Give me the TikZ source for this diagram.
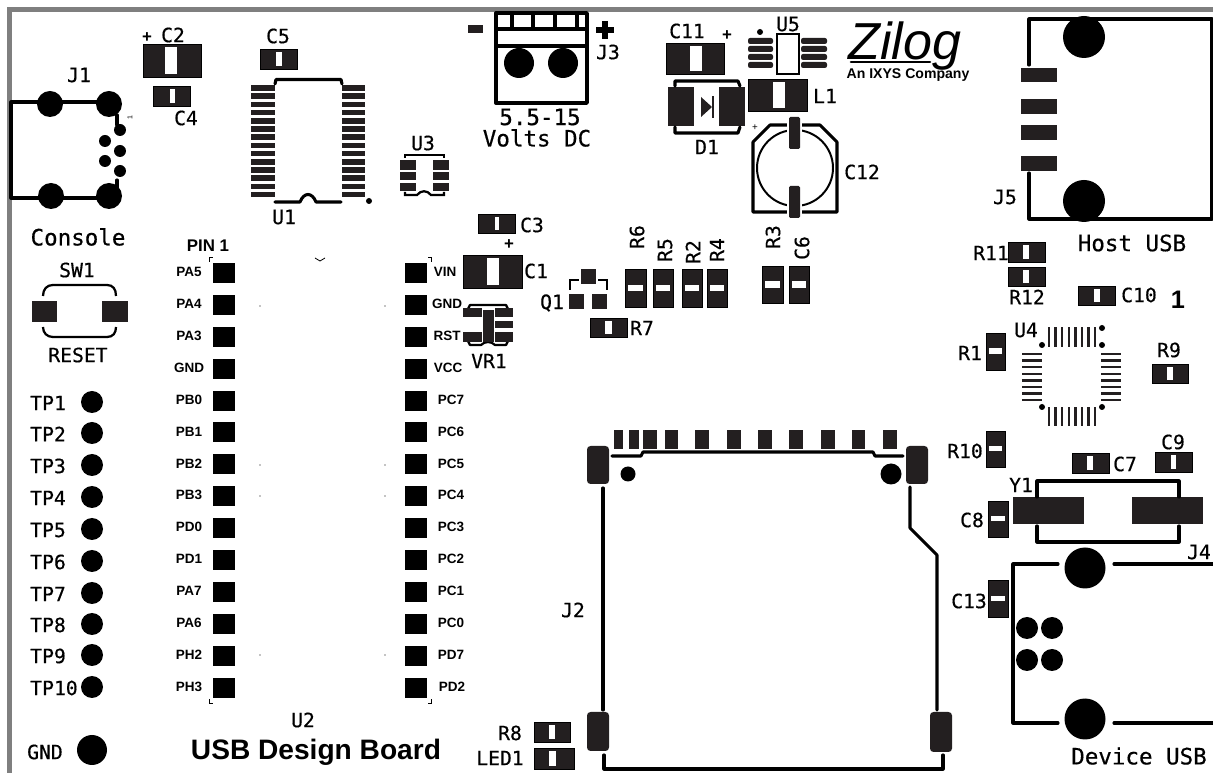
\documentclass[tikz,border=0pt]{standalone}
\usepackage{fontspec}
\setmainfont{Liberation Sans}
\newfontfamily\silkfont[FakeBold=0.5]{DejaVu Sans Mono}
\definecolor{padblack}{HTML}{231F20}
\definecolor{framegray}{HTML}{7F7F7F}
\tikzset{
    silk/.style={font=\silkfont\fontsize{14}{14}\selectfont,inner sep=0pt},
    bigsilk/.style={font=\silkfont\fontsize{16}{16}\selectfont,inner sep=0pt},
    pinlabel/.style={font=\bfseries\fontsize{9.6}{10}\selectfont,inner sep=0pt},
    outline/.style={line width=2.2pt,line cap=round,line join=round},
    pad/.style={fill=padblack,draw=black,line width=0.6pt},
    solidpad/.style={fill=black},
    hole/.style={fill=black}
}
\begin{document}
\begin{tikzpicture}[x=0.025cm,y=-0.025cm]
    \useasboundingbox (0,0) rectangle (1213,773);
    \draw [line width=3.6pt,color=framegray] (9.5,773) -- (9.5,9.5) -- (1213,9.5);

    % two terminal parts, bar across
    \foreach \xa/\ya/\xb/\yb/\ba/\bb in {143/44/201/77/165/177, 153/86/190/106/170/175, 260/49/297/69/276/282,
        666/43/724/74/690/702, 748/79/807/111/773/785, 478/214/515/233/495/499, 463/255/522/288/487/499,
        590/318/627/337/605/612, 1008/242/1045/262/1023/1029, 1008/267/1045/286/1023/1029,
        1078/286/1115/305/1094/1100, 1152/364/1188/383/1167/1173, 1072/453/1109/473/1087/1093,
        1155/452/1192/472/1171/1176, 534/722/570/742/549/555, 534/748/574/769/549/556} {
        \draw [pad] (\xa,\ya) rectangle (\xb,\yb);
        \fill [white] (\ba,\ya+3) rectangle (\bb,\yb-3);
    }
    \foreach \xa/\ya/\xb/\yb/\ba/\bb in {625/269/646/307/285/291, 653/269/673/307/285/291, 682/269/702/307/285/291,
        707/269/727/307/285/291, 762/266/783/303/281/288, 789/266/809/303/281/288, 986/333/1005/370/348/354,
        986/431/1005/467/446/451, 988/501/1008/537/516/521, 988/580/1008/617/596/601} {
        \draw [pad] (\xa,\ya) rectangle (\xb,\yb);
        \fill [white] (\xa+3,\ba) rectangle (\xb-3,\bb);
    }

    % J1
    \draw [outline] (109,102) -- (11,102) -- (11,198) -- (109,198);
    \foreach \x/\y in {50/104, 109/104, 51/196, 109/196} {\fill [hole] (\x,\y) circle (13);}
    \foreach \x/\y in {120/130, 105/141, 120/151, 105/161, 120/171} {\fill [hole] (\x,\y) circle (6);}
    \draw [outline] (117,115) -- (117,125);
    \draw [outline] (117,180) -- (117,188);
    \node (pinone) [rotate=90,font=\fontsize{5}{5}\selectfont,inner sep=0pt] at (130,118) {1};

    % U1
    \foreach \i in {0,...,13} {
        \fill [padblack] (251,88+8.2*\i-2.8) rectangle (275,88+8.2*\i+2.8);
        \fill [padblack] (342,88+8.2*\i-2.8) rectangle (365,88+8.2*\i+2.8);
    }
    \draw [outline] (275,84) -- (276,79.5) -- (341,79.5) -- (342,84);
    \draw [outline] (275,202) -- (300,202) .. controls (304,192) and (312,192) .. (316,202) -- (341,202);
    \fill [hole] (369,201) circle (3);

    % U3
    \foreach \ya/\yb in {160/170, 172/180, 183/191} {
        \fill [padblack] (400,\ya) rectangle (416,\yb);
        \fill [padblack] (433,\ya) rectangle (449,\yb);
    }
    \draw [line width=1.6pt] (405,158) -- (405,155) -- (444,155) -- (444,158);
    \draw [line width=1.6pt] (405,192) -- (405,195) -- (417,195) .. controls (421,190) and (427,190) .. (431,195) -- (444,195) -- (444,192);

    % J3
    \draw [line width=2.4pt,line join=round] (496,13) rectangle (587,103);
    \draw [line width=2.4pt] (496,29) -- (587,29);
    \draw [line width=2.4pt] (496,46) -- (587,46);
    \foreach \x in {510,531,553,575} {\fill [black] (\x,13) rectangle (\x+3.5,29);}
    \fill [hole] (519,63) circle (15);
    \fill [hole] (563,63) circle (15);
    \fill [padblack] (468,25) rectangle (483,33);
    \draw [line width=4pt] (596,30) -- (614,30);
    \draw [line width=4pt] (605,21) -- (605,39);

    % U5
    \draw [line width=2pt] (777,34) rectangle (799,74);
    \foreach \y in {41,49,57,65} {
        \fill [padblack,rounded corners=1.5pt] (748,\y-3) rectangle (773,\y+3);
        \fill [padblack,rounded corners=1.5pt] (801,\y-3) rectangle (827,\y+3);
    }
    \fill [hole] (760,32) circle (3);

    % D1
    \fill [padblack] (668,87) rectangle (694,126);
    \fill [padblack] (719,87) rectangle (745,126);
    \draw [outline] (675,86) -- (675,81) -- (738,81) -- (740,86);
    \draw [outline] (675,127) -- (675,133) -- (738,133) -- (740,127);
    \fill [padblack] (701,97) -- (712,107) -- (701,117) -- cycle;
    \fill [padblack] (711.5,96) rectangle (714,118);

    % C12
    \draw [outline] (753,212) -- (753,142) -- (770,125) -- (820,125) -- (837,142) -- (837,212) -- cycle;
    \draw [line width=1.4pt] (795,168) circle (38);
    \draw [white,line width=2pt,fill=padblack] (788,117) rectangle (801,149);
    \draw [white,line width=2pt,fill=padblack] (788,186) rectangle (801,218);
    \fill [padblack,rounded corners=1pt] (789,117) rectangle (800,149);
    \fill [padblack,rounded corners=1pt] (789,186) rectangle (800,218);

    % logo
    \node (zilog) [font=\itshape\fontsize{37}{37}\selectfont,inner sep=0pt,text depth=0pt,anchor=base] at (905,60) {Zilog};
    \draw [line width=1.8pt,line cap=round] (851,62) -- (930,62);
    \node (ixys) [font=\bfseries\fontsize{10}{10}\selectfont,inner sep=0pt] at (908,75) {An IXYS Company};

    % J5
    \draw [outline] (1029,65) -- (1029,19) -- (1212,19) -- (1212,219) -- (1029,219) -- (1029,173);
    \fill [hole] (1084,37) circle (21);
    \fill [hole] (1084,201) circle (21);
    \foreach \ya/\yb in {68/82, 99/114, 125/140, 156/171} {\fill [padblack] (1021,\ya) rectangle (1057,\yb);}

    % VR1
    \draw [line width=1.6pt,line join=round] (468,309) -- (470,305) -- (506,305) -- (508,309);
    \draw [line width=1.6pt,line join=round] (468,341) -- (470,345) -- (481,345) .. controls (485,341) and (491,341) .. (495,345) -- (506,345) -- (508,341);
    \foreach \xa/\ya/\xb/\yb in {463/308/482/317, 463/332/482/342, 495/308/513/317, 495/321/513/328, 495/332/513/342, 483/310/494/342} {
        \fill [padblack] (\xa,\ya) rectangle (\xb,\yb);
    }

    % Q1
    \foreach \xa/\ya in {581/269, 569/294, 592/294} {\fill [padblack] (\xa,\ya) rectangle (\xa+15,\ya+15);}
    \draw [line width=1.6pt] (570,290) -- (570,280) -- (579,280);
    \draw [line width=1.6pt] (598,280) -- (607,280) -- (607,290);

    % U2 pads and pin names
    \foreach \i/\pinl/\pinr/\xr in {0/PA5/VIN/445, 1/PA4/GND/447, 2/PA3/RST/447, 3/GND/VCC/448, 4/PB0/PC7/451, 5/PB1/PC6/451, 6/PB2/PC5/451,
        7/PB3/PC4/451, 8/PD0/PC3/451, 9/PD1/PC2/451, 10/PA7/PC1/451, 11/PA6/PC0/451, 12/PH2/PD7/451, 13/PH3/PD2/452} {
        \fill [solidpad] (213,273+31.9*\i-10) rectangle (235,273+31.9*\i+10);
        \fill [solidpad] (405,273+31.9*\i-10) rectangle (427,273+31.9*\i+10);
        \node (left\i) [pinlabel] at (189,272+31.9*\i) {\pinl};
        \node (right\i) [pinlabel] at (\xr,272+31.9*\i) {\pinr};
    }
    \draw [line width=1pt] (209.5,262) -- (209.5,257.5) -- (213,257.5);
    \draw [line width=1pt] (428,257.5) -- (431.5,257.5) -- (431.5,262);
    \draw [line width=1pt] (209.5,699) -- (209.5,703.5) -- (213,703.5);
    \draw [line width=1pt] (428,703.5) -- (431.5,703.5) -- (431.5,699);
    \draw [line width=0.6pt] (315,258) -- (320,261) -- (325,258);
    \foreach \y in {306,465,496,655} {
        \fill (260,\y) circle (0.7);
        \fill (385,\y) circle (0.7);
    }

    % SW1
    \fill [padblack] (32,301) rectangle (57,322);
    \fill [padblack] (102,301) rectangle (128,322);
    \draw [line width=1.6pt] (43,296) .. controls (43,289) and (47,285) .. (53,285) -- (107,285) .. controls (113,285) and (116,289) .. (116,296);
    \draw [line width=1.6pt] (43,327) .. controls (43,333) and (47,337) .. (53,337) -- (107,337) .. controls (113,337) and (116,333) .. (116,327);

    % test points
    \foreach \i/\y in {1/402, 2/433, 3/465, 4/497, 5/529, 6/561, 7/593, 8/624, 9/655, 10/687} {
        \fill [hole] (92,\y) circle (11);
        \node (TP\i) [silk,anchor=west] at (30,\y+1) {TP\i};
    }
    \fill [hole] (92,750) circle (15);

    % J2
    \foreach \xa/\xb in {614/623, 629/639, 643/657, 665/678, 695/709, 727/741, 758/772, 789/803, 821/835, 852/865, 883/897} {
        \fill [padblack] (\xa,430) rectangle (\xb,449);
    }
    \draw [outline] (612,456) -- (641,456) -- (643,452) -- (873,452) -- (875,456) -- (903,456);
    \foreach \xa/\ya/\xb/\yb in {587/446/609/484, 906/446/928/484, 587/712/609/751, 930/712/952/752} {
        \fill [padblack,rounded corners=2.5pt] (\xa,\ya) rectangle (\xb,\yb);
    }
    \fill [hole] (628,474) circle (7.5);
    \fill [hole] (891,474) circle (10.5);
    \draw [outline] (603,488) -- (603,710);
    \draw [outline] (910,487) -- (910,528) -- (937,555) -- (937,710);
    \draw [outline] (604,755) -- (604,769) -- (943,769) -- (943,755);

    % U4
    \foreach \i in {0,...,7} {
        \fill [padblack] (1049+6.6*\i-1.2,327) rectangle (1049+6.6*\i+1.2,347);
        \fill [padblack] (1049+6.6*\i-1.2,407) rectangle (1049+6.6*\i+1.2,426);
        \fill [padblack] (1022,354+6.6*\i-1.2) rectangle (1042,354+6.6*\i+1.2);
        \fill [padblack] (1101,354+6.6*\i-1.2) rectangle (1121,354+6.6*\i+1.2);
    }
    \foreach \x/\y in {1042/345, 1102/345, 1042/407, 1102/407, 1102/328} {\fill [hole] (\x,\y) circle (3);}

    % Y1
    \fill [padblack] (1013,497) rectangle (1084,524);
    \fill [padblack] (1132,497) rectangle (1203,524);
    \draw [outline] (1037,497) -- (1037,481) -- (1179,481) -- (1179,497);
    \draw [outline] (1037,526) -- (1037,542) -- (1179,542) -- (1179,526);

    % J4
    \draw [outline] (1058,564) -- (1013,564) -- (1013,723) -- (1058,723);
    \draw [outline] (1114,564) -- (1213,564);
    \draw [outline] (1114,723) -- (1213,723);
    \fill [hole] (1085,568) circle (20.5);
    \fill [hole] (1085,719) circle (20.5);
    \foreach \x/\y in {1027/628, 1052/628, 1027/660, 1052/660} {\fill [hole] (\x,\y) circle (11);}

    % silk labels
    \foreach \t/\x/\y in {C2/173/35, C4/186/118, C5/278/36, J1/79/75, U1/284/217, U3/423/143, J3/608/52,
        C11/687/31, U5/788/24, L1/825/96, D1/707/147, C12/862/172, J5/1005/197, R11/991/253, R12/1027/297,
        C10/1139/295, C3/532/225, C1/536/271, VR1/489/361, Q1/552/303, R7/642/328, R1/970/353, U4/1026/330,
        R9/1169/350, R10/965/451, C7/1125/464, C9/1173/442, Y1/1021/485, C8/972/520, C13/969/601, J4/1199/552,
        J2/573/610, R8/510/733, LED1/500/758, U2/303/720, SW1/77/270, RESET/78/355, GND/45/752} {
        \node (\t) [silk] at (\x,\y) {\t};
    }
    \foreach \t/\x/\y in {R6/637/237, R5/665/250, R2/693/252, R4/717/250, R3/773/237, C6/802/248} {
        \node (\t) [silk,rotate=90] at (\x,\y) {\t};
    }
    \foreach \n/\x/\y in {plusa/147/38, plusb/727/36, plusc/509/245} {
        \node (\n) [font=\bfseries\fontsize{12}{12}\selectfont,inner sep=0pt] at (\x,\y) {+};
    }
    \node (plusd) [font=\fontsize{7}{7}\selectfont,inner sep=0pt] at (755,128) {+};
    \node (console) [bigsilk] at (78,237) {Console};
    \node (volts) [bigsilk] at (540,117) {5.5-15};
    \node (voltsdc) [bigsilk] at (537,138) {Volts DC};
    \node (hostusb) [bigsilk] at (1132,243) {Host USB};
    \node (deviceusb) [bigsilk] at (1139,756) {Device USB};
    \node (pinname) [font=\bfseries\fontsize{12}{12}\selectfont,inner sep=0pt] at (208,246) {PIN 1};
    \node (board) [font=\bfseries\fontsize{20}{20}\selectfont,inner sep=0pt] at (316,752) {USB Design Board};
    \node (one) [font=\bfseries\fontsize{18}{18}\selectfont,inner sep=0pt] at (1178,300) {1};
\end{tikzpicture}
\end{document}
